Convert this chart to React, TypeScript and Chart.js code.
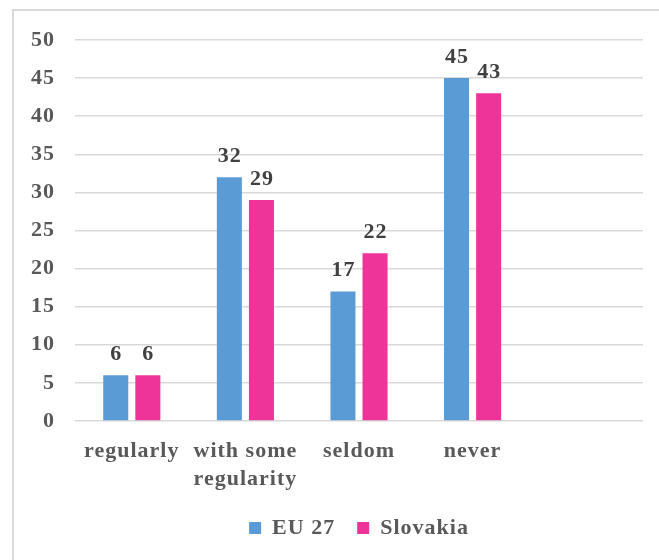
import React, { useEffect, useRef } from 'react';
import { Chart, registerables } from 'chart.js';

Chart.register(...registerables);

const categories: (string | string[])[] = ['regularly', ['with some', 'regularity'], 'seldom', 'never', ''];
const eu27: (number | null)[] = [6, 32, 17, 45, null];
const slovakia: (number | null)[] = [6, 29, 22, 43, null];
const seriesNames = ['EU 27', 'Slovakia'];
const seriesColors = ['#5B9BD5', '#EE3399'];
const yMin = 0;
const yMax = 50;
const yStep = 5;

const FONT = "'Liberation Serif', 'Times New Roman', serif";
const SPACING = '1px';

const spacingPlugin = {
  id: 'spacing',
  beforeUpdate(chart: any) { chart.ctx.letterSpacing = SPACING; },
  beforeLayout(chart: any) { chart.ctx.letterSpacing = SPACING; },
  beforeDraw(chart: any) { chart.ctx.letterSpacing = SPACING; },
};

const framePlugin = {
  id: 'frame',
  beforeDraw(chart: any) {
    const ctx = chart.ctx;
    ctx.save();
    ctx.strokeStyle = '#d9d9d9';
    ctx.lineWidth = 2;
    ctx.strokeRect(13, 10, chart.width + 50, chart.height + 50);
    ctx.restore();
  },
};

const dataLabelPlugin = {
  id: 'dataLabels',
  afterDatasetsDraw(chart: any) {
    const ctx = chart.ctx;
    ctx.save();
    ctx.font = `bold 22px ${FONT}`;
    ctx.fillStyle = '#404040';
    ctx.textAlign = 'center';
    ctx.textBaseline = 'alphabetic';
    chart.data.datasets.forEach((ds: any, di: number) => {
      const meta = chart.getDatasetMeta(di);
      meta.data.forEach((bar: any, i: number) => {
        const v = ds.data[i];
        if (v === null || v === undefined) return;
        ctx.fillText(String(v), bar.x + 0.5, bar.y - 15);
      });
    });
    ctx.restore();
  },
};

export default function App() {
  const ref = useRef<HTMLCanvasElement>(null);
  useEffect(() => {
    document.body.style.margin = '0';
    const canvas = ref.current!;
    const chart = new Chart(canvas, {
      type: 'bar',
      data: {
        labels: categories as any,
        datasets: [
          { label: seriesNames[0], data: eu27, backgroundColor: seriesColors[0] },
          { label: seriesNames[1], data: slovakia, backgroundColor: seriesColors[1] },
        ],
      },
      options: {
        animation: false,
        responsive: false,
        devicePixelRatio: 1,
        datasets: { bar: { barPercentage: 0.78, categoryPercentage: 0.565 } },
        layout: { padding: { left: 15, right: 16, top: 40, bottom: 11 } },
        plugins: {
          legend: {
            position: 'bottom',
            fullSize: false,
            labels: {
              boxWidth: 12,
              boxHeight: 12,
              padding: 22,
              color: '#595959',
              font: { family: FONT, size: 22, weight: 'bold' },
            },
          },
          tooltip: { enabled: false },
        },
        scales: {
          x: {
            grid: { display: false, drawTicks: false },
            border: { display: false },
            ticks: {
              color: '#595959',
              font: { family: FONT, size: 22, weight: 'bold', lineHeight: 1.25 },
              padding: 17,
              maxRotation: 0,
              autoSkip: false,
            },
            afterFit: (s: any) => { s.height = 74; },
          },
          y: {
            min: yMin,
            max: yMax,
            grid: { color: '#d9d9d9', lineWidth: 1.5, drawTicks: false },
            border: { display: false },
            ticks: {
              stepSize: yStep,
              color: '#595959',
              font: { family: FONT, size: 22, weight: 'bold' },
              padding: 20,
            },
            afterFit: (s: any) => { s.width = 60; },
          },
        },
      },
      plugins: [spacingPlugin, framePlugin, dataLabelPlugin],
    } as any);
    return () => chart.destroy();
  }, []);
  return (
    <div style={{ width: 659, height: 560 }}>
      <canvas ref={ref} width={659} height={560} style={{ display: 'block' }} />
    </div>
  );
}
